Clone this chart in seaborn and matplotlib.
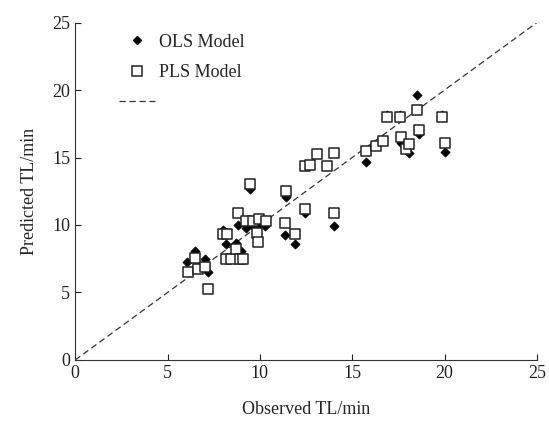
"""
Observed vs predicted TL for OLS and PLS models, with the 1:1 line.
"""
import numpy as np
import pandas as pd
import seaborn as sns
import matplotlib.pyplot as plt
from matplotlib.lines import Line2D

# OLS model points (observed, predicted)
ols_obs = [6.07, 6.49, 7.03, 7.21, 8.02, 8.17, 8.69, 8.83, 8.96, 9.23, 9.46,
           9.61, 9.82, 10.0, 10.27, 11.41, 11.37, 11.90, 12.44, 14.0, 15.72,
           16.89, 17.57, 17.66, 18.08, 18.48, 18.60, 19.86, 20.01]
ols_pred = [7.24, 8.10, 7.46, 6.55, 9.63, 8.60, 8.70, 9.98, 8.10, 9.76, 12.70,
            9.96, 9.88, 10.13, 9.93, 12.10, 9.26, 8.57, 10.87, 9.96, 14.70,
            18.15, 18.15, 16.11, 15.37, 19.64, 16.75, 18.15, 15.39]

# PLS model points (observed, predicted)
pls_obs = [6.09, 6.49, 6.67, 7.03, 7.21, 7.98, 8.20, 8.15, 8.44, 8.69, 8.83,
           8.92, 9.10, 9.25, 9.46, 9.61, 9.82, 9.88, 9.95, 10.31, 11.37, 11.41,
           11.90, 12.44, 12.44, 12.74, 13.07, 13.61, 14.02, 14.02, 15.72,
           16.26, 16.65, 16.89, 17.57, 17.66, 17.93, 18.08, 18.48, 18.60,
           19.86, 20.01]
pls_pred = [6.55, 7.53, 6.72, 6.92, 5.26, 9.34, 9.34, 7.49, 7.49, 8.20, 10.87,
            7.49, 7.49, 10.33, 13.02, 10.33, 9.44, 8.77, 10.42, 10.33, 10.18,
            12.52, 9.34, 11.22, 14.38, 14.45, 15.24, 14.40, 10.87, 15.37,
            15.49, 15.86, 16.23, 18.03, 18.03, 16.55, 15.64, 16.01, 18.53,
            17.05, 18.03, 16.06]

axis_ticks = [0, 5, 10, 15, 20, 25]


def main():
    sns.set_style("ticks")
    plt.rcParams['font.family'] = ['Liberation Serif', 'DejaVu Serif']

    ols = pd.DataFrame({'obs': ols_obs, 'pred': ols_pred})
    pls = pd.DataFrame({'obs': pls_obs, 'pred': pls_pred})

    fig = plt.figure(figsize=(5.49, 4.25), dpi=100)
    ax = fig.add_axes([0.137, 0.153, 0.841, 0.794])

    # 1:1 line
    ax.plot(axis_ticks, axis_ticks, color='#333333', linestyle=(0, (5, 3)),
            linewidth=0.9, zorder=1)

    sns.scatterplot(x='obs', y='pred', data=ols, marker='D', s=22,
                    color='black', edgecolor='black', linewidth=0.5,
                    ax=ax, zorder=2, legend=False)
    sns.scatterplot(x='obs', y='pred', data=pls, marker='s', s=48,
                    facecolor='white', edgecolor='#222222', linewidth=1.1,
                    ax=ax, zorder=3, legend=False)

    ax.set_xlim(0, 25)
    ax.set_ylim(0, 25)
    ax.set_xticks(axis_ticks)
    ax.set_yticks(axis_ticks)
    ax.tick_params(direction='in', length=4, labelsize=13, colors='#222222')
    ax.set_xlabel('Observed TL/min', fontsize=13, labelpad=14)
    ax.set_ylabel('Predicted TL/min', fontsize=13, labelpad=10)
    sns.despine(ax=ax)
    for side in ['left', 'bottom']:
        ax.spines[side].set_color('#333333')

    handles = [
        Line2D([], [], marker='D', color='black', linestyle='none', markersize=4.5),
        Line2D([], [], marker='s', markerfacecolor='white', markeredgecolor='#222222',
               linestyle='none', markersize=6.5, markeredgewidth=1.1),
        Line2D([], [], color='#333333', linestyle=(0, (5, 3)), linewidth=0.9),
    ]
    ax.legend(handles, ['OLS Model', 'PLS Model', ''], loc='upper left',
              bbox_to_anchor=(0.06, 1.015), frameon=False, fontsize=13,
              handlelength=2.0, handletextpad=0.2, labelspacing=0.75)

    fig.savefig('out.png', dpi=100)


if __name__ == "__main__":
    main()
